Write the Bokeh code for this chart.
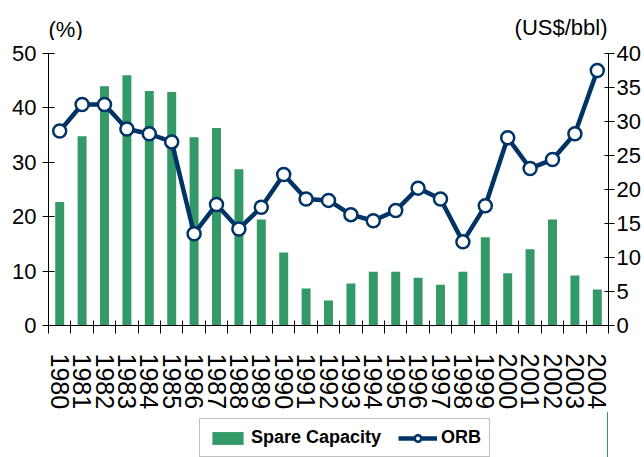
import math
from bokeh.plotting import figure
from bokeh.layouts import column
from bokeh.models import Range1d, LinearAxis, FixedTicker, Legend, LegendItem, ColumnDataSource
from bokeh.core.properties import value
from bokeh.embed import file_html
from bokeh.resources import INLINE

years = [str(y) for y in range(1980, 2005)]
spare_capacity = [22.7, 34.8, 44.0, 46.0, 43.1, 42.9, 34.6, 36.3, 28.7, 19.5, 13.4, 6.8, 4.6,
                  7.7, 9.9, 9.9, 8.8, 7.5, 9.9, 16.2, 9.6, 14.0, 19.5, 9.2, 6.6]
orb = [28.6, 32.5, 32.5, 28.9, 28.2, 27.0, 13.5, 17.8, 14.2, 17.4, 22.2, 18.6, 18.4,
       16.3, 15.4, 16.9, 20.2, 18.6, 12.3, 17.6, 27.6, 23.1, 24.4, 28.2, 37.5]
left_ticks = [0, 10, 20, 30, 40, 50]
right_ticks = [0, 5, 10, 15, 20, 25, 30, 35, 40]
left_unit = "(%)"
right_unit = "(US$/bbl)"
series_names = ["Spare Capacity", "ORB"]

FONT = "Liberation Sans"
GREEN = "#339966"
NAVY = "#003366"
W = 642
HEAD_H = 40
FOOT_H = 47


def bare(fig):
    fig.outline_line_color = None
    return fig


# ---- header with the unit captions ----
head = bare(figure(width=W, height=HEAD_H, output_backend="svg", toolbar_location=None,
                   x_range=Range1d(0, W), y_range=Range1d(0, HEAD_H),
                   x_axis_type=None, y_axis_type=None,
                   min_border_left=0, min_border_right=0, min_border_top=0, min_border_bottom=0))
head.text(x=[0], y=[HEAD_H - 16], text=[left_unit], text_font=value(FONT),
          text_font_size=value("22px"), text_color="black", text_baseline="top", text_align="left")
head.text(x=[W], y=[HEAD_H - 14], text=[right_unit], text_font=value(FONT),
          text_font_size=value("22px"), text_color="black", text_baseline="top", text_align="right")

# ---- main chart ----
xpos = [int(y) for y in years]
src = ColumnDataSource(dict(x=xpos, spare=spare_capacity, orb=orb))

p = bare(figure(frame_width=560, frame_height=272, output_backend="svg", toolbar_location=None,
                x_range=Range1d(xpos[0] - 0.5, xpos[-1] + 0.5), y_range=Range1d(0, 50),
                min_border_left=48, min_border_right=0, min_border_top=13, min_border_bottom=80,
                x_axis_type=None, y_axis_type=None))
p.extra_y_ranges = {"usd": Range1d(0, 40)}

xaxis = LinearAxis(ticker=FixedTicker(ticks=xpos, minor_ticks=[v - 0.5 for v in xpos] + [xpos[-1] + 0.5]))
xaxis.major_label_overrides = {int(y): y for y in years}
xaxis.major_tick_in = 0
xaxis.major_tick_out = 0
xaxis.minor_tick_in = 5
xaxis.minor_tick_out = 8
xaxis.minor_tick_line_color = "black"
xaxis.axis_line_color = "black"
xaxis.major_label_orientation = -math.pi / 2
xaxis.major_label_standoff = 20
xaxis.major_label_text_font = FONT
xaxis.major_label_text_font_size = "25px"
xaxis.major_label_text_color = "black"
p.add_layout(xaxis, "below")

laxis = LinearAxis(ticker=FixedTicker(ticks=left_ticks, minor_ticks=[]))
laxis.major_tick_in = 6
laxis.major_tick_out = 6
laxis.major_label_standoff = 6
laxis.major_label_text_font = FONT
laxis.major_label_text_font_size = "22px"
laxis.major_label_text_color = "black"
laxis.axis_line_color = "black"
p.add_layout(laxis, "left")

raxis = LinearAxis(y_range_name="usd", ticker=FixedTicker(ticks=right_ticks, minor_ticks=[]))
raxis.major_tick_in = 4
raxis.major_tick_out = 6
raxis.major_label_standoff = 2
raxis.major_label_text_font = FONT
raxis.major_label_text_font_size = "22px"
raxis.major_label_text_color = "black"
raxis.axis_line_color = "black"
p.add_layout(raxis, "right")

bar_style = dict(fill_color=GREEN, line_color=None)
line_style = dict(line_color=NAVY, line_width=4.5, line_join="round")
mark_style = dict(marker="circle", size=13, fill_color="white", line_color=NAVY, line_width=2.5)

p.vbar(x="x", top="spare", width=0.4, bottom=0, source=src, **bar_style)
p.line(x="x", y="orb", source=src, y_range_name="usd", **line_style)
p.scatter(x="x", y="orb", source=src, y_range_name="usd", **mark_style)

# ---- footer carrying the legend (same renderers' styles; data lies outside its view) ----
foot = bare(figure(width=W, height=FOOT_H, output_backend="svg", toolbar_location=None,
                   x_range=Range1d(0, 1), y_range=Range1d(0, 1),
                   x_axis_type=None, y_axis_type=None,
                   min_border_left=0, min_border_right=0, min_border_top=0, min_border_bottom=0))
lb = foot.vbar(x="x", top="spare", width=0.4, bottom=0, source=src, **bar_style)
ll = foot.line(x="x", y="orb", source=src, **line_style)
ls = foot.scatter(x="x", y="orb", source=src, **mark_style)

legend = Legend(items=[LegendItem(label=series_names[0], renderers=[lb]),
                       LegendItem(label=series_names[1], renderers=[ll, ls])],
                orientation="horizontal", location=(151, 2))
legend.border_line_color = "#808080"
legend.border_line_width = 1.5
legend.background_fill_color = "white"
legend.background_fill_alpha = 1
legend.padding = 8
legend.spacing = 17
legend.margin = 0
legend.glyph_width = 39
legend.glyph_height = 16
legend.label_standoff = 4
legend.label_text_font = FONT
legend.label_text_font_size = "18px"
legend.label_text_font_style = "bold"
legend.label_text_color = "black"
foot.add_layout(legend, "center")

open("out.html", "w").write(file_html(column(head, p, foot, spacing=0), INLINE))
